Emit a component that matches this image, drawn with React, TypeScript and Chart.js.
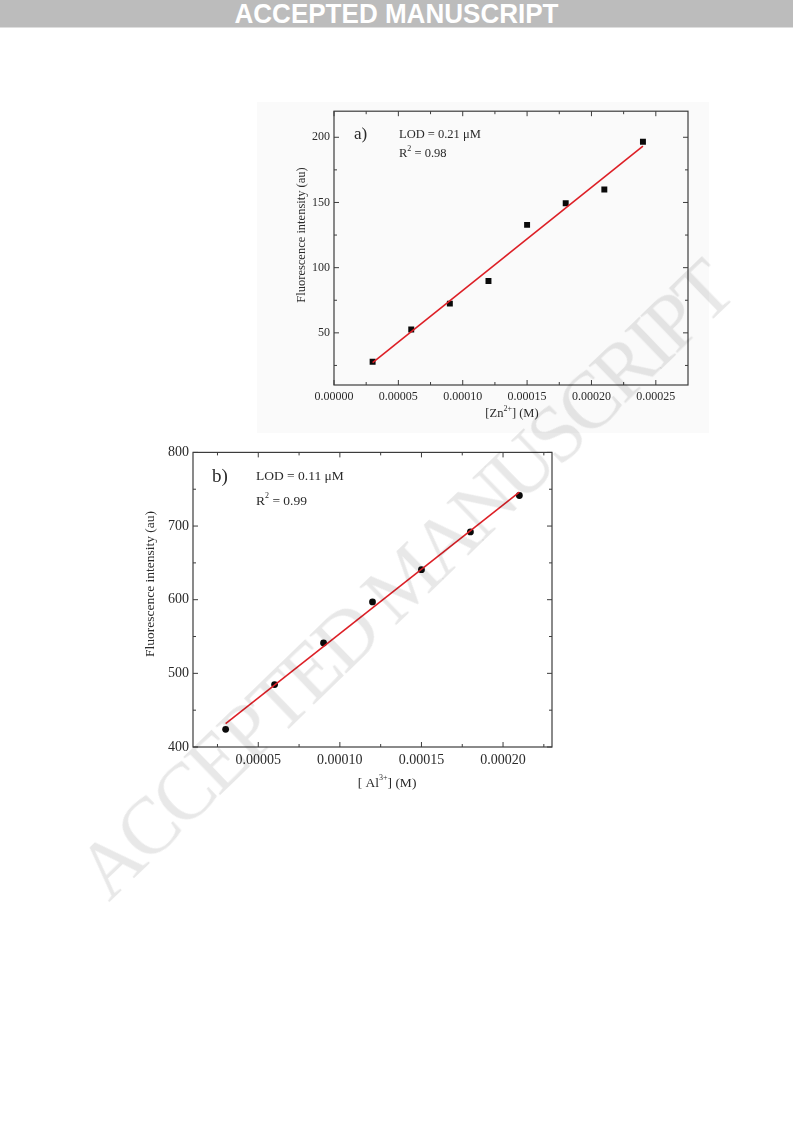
import React, { useEffect, useRef } from "react";
import { Chart, registerables } from "chart.js";

Chart.register(...registerables);

const SERIF = '"Liberation Serif", "Times New Roman", serif';
const INK = "#2a2a2a";
const FRAME = "#3c3c3c";
const RED = "#dd1f26";

// ---------- data: panel a (Zn2+) ----------
const ZN_CONC = [0.00003, 0.00006, 0.00009, 0.00012, 0.00015, 0.00018, 0.00021, 0.00024];
const ZN_INTENSITY = [27.8, 52.5, 72.4, 89.7, 132.8, 149.4, 160.0, 196.5];
const ZN_FIT_X = [0.00003, 0.00024];
const ZN_FIT_Y = [27.1, 193.2];
const ZN_X_MAJOR = [0, 0.00005, 0.0001, 0.00015, 0.0002, 0.00025];
const ZN_X_MINOR = [0.000025, 0.000075, 0.000125, 0.000175, 0.000225];
const ZN_Y_MAJOR = [50, 100, 150, 200];
const ZN_Y_MINOR = [25, 75, 125, 175];

// ---------- data: panel b (Al3+) ----------
const AL_CONC = [0.00003, 0.00006, 0.00009, 0.00012, 0.00015, 0.00018, 0.00021];
const AL_INTENSITY = [424, 484.7, 541.3, 597, 640.8, 692, 741.5];
const AL_FIT_X = [0.00003, 0.00021];
const AL_FIT_Y = [431.6, 746.0];
const AL_X_MAJOR = [0.00005, 0.0001, 0.00015, 0.0002];
const AL_X_MINOR = [0.000025, 0.000075, 0.000125, 0.000175, 0.000225];
const AL_Y_MAJOR = [400, 500, 600, 700, 800];
const AL_Y_MINOR = [450, 550, 650, 750];

type Seg = { t: string; sup?: boolean };

type PanelSpec = {
  key: string;
  x: number[];
  y: number[];
  fitX: number[];
  fitY: number[];
  pointStyle: "rect" | "circle";
  pointRadius: number;
  xMin: number;
  xMax: number;
  yMin: number;
  yMax: number;
  xMajor: number[];
  xMinor: number[];
  yMajor: number[];
  yMinor: number[];
  tickFont: number;
  titleFont: number;
  xTitle: Seg[];
  yTitle: string;
  tag: string;
  tagFont: number;
  lod: string;
  r2: Seg[];
  annFont: number;
  box: { left: number; top: number; width: number; height: number };
  area: { left: number; top: number; right: number; bottom: number };
  pos: {
    tag: [number, number];
    lod: [number, number];
    r2: [number, number];
    yTitle: [number, number];
    xTitle: [number, number];
  };
  xPad: number;
  yPad: number;
};

function drawRich(
  ctx: CanvasRenderingContext2D,
  segs: Seg[],
  x: number,
  y: number,
  size: number,
  align: "left" | "center"
) {
  const base = `${size}px ${SERIF}`;
  const sup = `${Math.round(size * 0.62)}px ${SERIF}`;
  const widths = segs.map((s) => {
    ctx.font = s.sup ? sup : base;
    return ctx.measureText(s.t).width;
  });
  const total = widths.reduce((a, b) => a + b, 0);
  let cx = align === "center" ? x - total / 2 : x;
  ctx.textAlign = "left";
  ctx.textBaseline = "middle";
  segs.forEach((s, i) => {
    ctx.font = s.sup ? sup : base;
    ctx.fillText(s.t, cx, s.sup ? y - size * 0.38 : y);
    cx += widths[i];
  });
}

function Panel({ spec }: { spec: PanelSpec }) {
  const ref = useRef<HTMLCanvasElement>(null);
  useEffect(() => {
    const s = spec;
    const canvas = ref.current!;
    const framePlugin = {
      id: "frame_" + s.key,
      afterDraw(chart: any) {
        const { ctx, chartArea: a, scales } = chart;
        const xs = scales.x;
        const ys = scales.y;
        ctx.save();
        ctx.strokeStyle = FRAME;
        ctx.lineWidth = 1.2;
        ctx.strokeRect(a.left, a.top, a.right - a.left, a.bottom - a.top);
        const tickX = (vals: number[], len: number) => {
          vals.forEach((v) => {
            const px = xs.getPixelForValue(v);
            ctx.beginPath();
            ctx.moveTo(px, a.bottom);
            ctx.lineTo(px, a.bottom - len);
            ctx.moveTo(px, a.top);
            ctx.lineTo(px, a.top + len);
            ctx.stroke();
          });
        };
        const tickY = (vals: number[], len: number) => {
          vals.forEach((v) => {
            const py = ys.getPixelForValue(v);
            ctx.beginPath();
            ctx.moveTo(a.left, py);
            ctx.lineTo(a.left + len, py);
            ctx.moveTo(a.right, py);
            ctx.lineTo(a.right - len, py);
            ctx.stroke();
          });
        };
        ctx.lineWidth = 1;
        tickX(s.xMajor, 5);
        tickX(s.xMinor, 3);
        tickY(s.yMajor, 5);
        tickY(s.yMinor, 3);

        ctx.fillStyle = INK;
        ctx.font = `${s.tagFont}px ${SERIF}`;
        ctx.textAlign = "left";
        ctx.textBaseline = "middle";
        ctx.fillText(s.tag, s.pos.tag[0], s.pos.tag[1]);
        drawRich(ctx, [{ t: s.lod }], s.pos.lod[0], s.pos.lod[1], s.annFont, "left");
        drawRich(ctx, s.r2, s.pos.r2[0], s.pos.r2[1], s.annFont, "left");
        drawRich(ctx, s.xTitle, s.pos.xTitle[0], s.pos.xTitle[1], s.titleFont, "center");
        ctx.save();
        ctx.translate(s.pos.yTitle[0], s.pos.yTitle[1]);
        ctx.rotate(-Math.PI / 2);
        ctx.font = `${s.titleFont}px ${SERIF}`;
        ctx.textAlign = "center";
        ctx.textBaseline = "middle";
        ctx.fillText(s.yTitle, 0, 0);
        ctx.restore();
        ctx.restore();
      },
    };

    const chart = new Chart(canvas, {
      type: "scatter",
      data: {
        datasets: [
          {
            type: "line",
            data: s.fitX.map((x, i) => ({ x, y: s.fitY[i] })),
            borderColor: RED,
            borderWidth: 1.6,
            pointRadius: 0,
            fill: false,
            tension: 0,
            order: 0,
          } as any,
          {
            type: "scatter",
            data: s.x.map((x, i) => ({ x, y: s.y[i] })),
            pointStyle: s.pointStyle,
            pointRadius: s.pointRadius,
            backgroundColor: "#0a0a0a",
            borderColor: "#0a0a0a",
            borderWidth: 0,
            order: 1,
          } as any,
        ],
      },
      options: {
        animation: false,
        responsive: false,
        devicePixelRatio: 1,
        layout: {
          padding: {
            top: s.area.top,
            right: s.box.width - s.area.right,
            left: 0,
            bottom: 0,
          },
        },
        plugins: { legend: { display: false }, tooltip: { enabled: false } },
        scales: {
          x: {
            type: "linear",
            min: s.xMin,
            max: s.xMax,
            grid: { display: false, drawTicks: false },
            border: { display: false },
            ticks: {
              autoSkip: false,
              maxRotation: 0,
              padding: s.xPad,
              color: INK,
              font: { family: SERIF, size: s.tickFont },
              callback: (v: any) => Number(v).toFixed(5),
            },
            afterBuildTicks: (sc: any) => {
              sc.ticks = s.xMajor.map((v) => ({ value: v }));
            },
            afterFit: (sc: any) => {
              sc.height = s.box.height - s.area.bottom;
            },
          },
          y: {
            type: "linear",
            min: s.yMin,
            max: s.yMax,
            grid: { display: false, drawTicks: false },
            border: { display: false },
            ticks: {
              autoSkip: false,
              padding: s.yPad,
              color: INK,
              font: { family: SERIF, size: s.tickFont },
              callback: (v: any) => String(v),
            },
            afterBuildTicks: (sc: any) => {
              sc.ticks = s.yMajor.map((v) => ({ value: v }));
            },
            afterFit: (sc: any) => {
              sc.width = s.area.left;
            },
          },
        },
      } as any,
      plugins: [framePlugin],
    });
    return () => chart.destroy();
  }, [spec]);

  return (
    <canvas
      ref={ref}
      width={spec.box.width}
      height={spec.box.height}
      style={{
        position: "absolute",
        left: spec.box.left,
        top: spec.box.top,
        width: spec.box.width,
        height: spec.box.height,
      }}
    />
  );
}

const PANEL_A: PanelSpec = {
  key: "a",
  x: ZN_CONC,
  y: ZN_INTENSITY,
  fitX: ZN_FIT_X,
  fitY: ZN_FIT_Y,
  pointStyle: "rect",
  pointRadius: 4.2,
  xMin: 0,
  xMax: 0.000275,
  yMin: 10,
  yMax: 220,
  xMajor: ZN_X_MAJOR,
  xMinor: ZN_X_MINOR,
  yMajor: ZN_Y_MAJOR,
  yMinor: ZN_Y_MINOR,
  tickFont: 12,
  titleFont: 12.5,
  xTitle: [{ t: "[Zn" }, { t: "2+", sup: true }, { t: "] (M)" }],
  yTitle: "Fluorescence intensity (au)",
  tag: "a)",
  tagFont: 17,
  lod: "LOD = 0.21 \u03bcM",
  r2: [{ t: "R" }, { t: "2", sup: true }, { t: " = 0.98" }],
  annFont: 12.5,
  box: { left: 258, top: 100, width: 452, height: 335 },
  area: { left: 76, top: 7, right: 430, bottom: 285 },
  pos: {
    tag: [96, 35],
    lod: [141, 35],
    r2: [141, 54],
    yTitle: [44, 135],
    xTitle: [254, 314],
  },
  xPad: 5,
  yPad: 4,
};

const PANEL_B: PanelSpec = {
  key: "b",
  x: AL_CONC,
  y: AL_INTENSITY,
  fitX: AL_FIT_X,
  fitY: AL_FIT_Y,
  pointStyle: "circle",
  pointRadius: 3.4,
  xMin: 0.00001,
  xMax: 0.00023,
  yMin: 400,
  yMax: 800,
  xMajor: AL_X_MAJOR,
  xMinor: AL_X_MINOR,
  yMajor: AL_Y_MAJOR,
  yMinor: AL_Y_MINOR,
  tickFont: 14,
  titleFont: 13.5,
  xTitle: [{ t: "[ Al" }, { t: "3+", sup: true }, { t: "] (M)" }],
  yTitle: "Fluorescence intensity (au)",
  tag: "b)",
  tagFont: 19,
  lod: "LOD = 0.11 \u03bcM",
  r2: [{ t: "R" }, { t: "2", sup: true }, { t: " = 0.99" }],
  annFont: 13.5,
  box: { left: 130, top: 440, width: 440, height: 360 },
  area: { left: 63, top: 8, right: 422, bottom: 307 },
  pos: {
    tag: [82, 37],
    lod: [126, 36],
    r2: [126, 61],
    yTitle: [20, 144],
    xTitle: [257, 343],
  },
  xPad: 5,
  yPad: 4,
};

export default function App() {
  return (
    <div
      style={{
        position: "absolute",
        left: 0,
        top: 0,
        width: 793,
        height: 1121,
        background: "#ffffff",
        overflow: "hidden",
      }}
    >
      <div
        style={{
          position: "absolute",
          left: 0,
          top: 0,
          width: 793,
          height: 27,
          background: "#bcbcbc",
          borderBottom: "1px solid #dedede",
        }}
      >
        <div
          style={{
            position: "absolute",
            left: 0,
            top: 0,
            width: 793,
            height: 27,
            lineHeight: "27px",
            textAlign: "center",
            color: "#ffffff",
            fontFamily: '"Liberation Sans", Arial, sans-serif',
            fontWeight: "bold",
            fontSize: 28,
            transform: "scaleX(0.93)",
          }}
        >
          ACCEPTED MANUSCRIPT
        </div>
      </div>
      <div
        style={{
          position: "absolute",
          left: 257,
          top: 102,
          width: 452,
          height: 331,
          background: "#fafafa",
        }}
      />
      <Panel spec={PANEL_A} />
      <Panel spec={PANEL_B} />
      <div
        style={{
          position: "absolute",
          left: 404,
          top: 580,
          transform: "translate(-50%, -50%) rotate(-44deg)",
          fontFamily: SERIF,
          fontSize: 80,
          letterSpacing: -4,
          lineHeight: 1,
          whiteSpace: "nowrap",
          color: "rgba(0,0,0,0.09)",
          pointerEvents: "none",
        }}
      >
        ACCEPTED MANUSCRIPT
      </div>
    </div>
  );
}
